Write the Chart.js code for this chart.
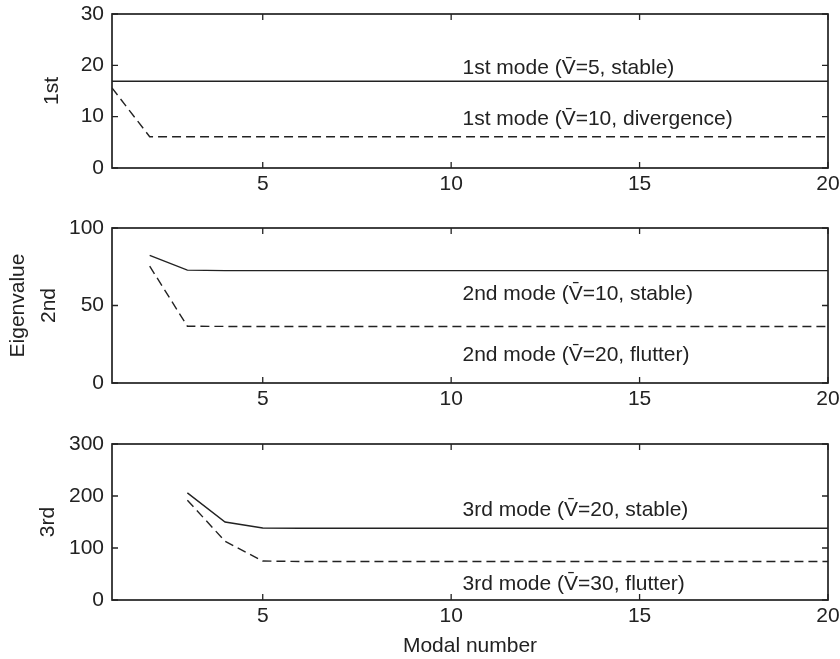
<!DOCTYPE html>
<html>
<head>
<meta charset="utf-8">
<script src="https://cdn.jsdelivr.net/npm/chart.js@4/dist/chart.umd.min.js"></script>
<style>
  html, body { margin: 0; padding: 0; background: #fff; }
  #wrap { position: relative; width: 840px; height: 659px; overflow: hidden; }
  canvas { position: absolute; left: 0; }
</style>
</head>
<body>
<div id="wrap">
  <canvas id="c1" width="840" height="215" style="top:0px"></canvas>
  <canvas id="c2" width="840" height="215" style="top:214px"></canvas>
  <canvas id="c3" width="840" height="229" style="top:430px"></canvas>
</div>
<script>
// ---- data ----
const modalNumbers = [1,2,3,4,5,6,7,8,9,10,11,12,13,14,15,16,17,18,19,20];
const xTicks = [5,10,15,20];

const mode1Stable     = [16.9,16.9,16.9,16.9,16.9,16.9,16.9,16.9,16.9,16.9,16.9,16.9,16.9,16.9,16.9,16.9,16.9,16.9,16.9,16.9];
const mode1Divergence = [15.6,6.1,6.1,6.1,6.1,6.1,6.1,6.1,6.1,6.1,6.1,6.1,6.1,6.1,6.1,6.1,6.1,6.1,6.1,6.1];
const mode2Stable     = [null,82.3,72.8,72.5,72.5,72.5,72.5,72.5,72.5,72.5,72.5,72.5,72.5,72.5,72.5,72.5,72.5,72.5,72.5,72.5];
const mode2Flutter    = [null,75.4,36.6,36.5,36.5,36.5,36.5,36.5,36.5,36.5,36.5,36.5,36.5,36.5,36.5,36.5,36.5,36.5,36.5,36.5];
const mode3Stable     = [null,null,206,150,138.5,138,138,138,138,138,138,138,138,138,138,138,138,138,138,138];
const mode3Flutter    = [null,null,192,113,75,74,74,74,74,74,74,74,74,74,74,74,74,74,74,74];

const y1Ticks = [0,10,20,30];
const y2Ticks = [0,50,100];
const y3Ticks = [0,100,200,300];

const panel1Labels = ['1st mode (V\u0304=5, stable)', '1st mode (V\u0304=10, divergence)'];
const panel1LabelY = [19.5, 9.45];
const panel2Labels = ['2nd mode (V\u0304=10, stable)', '2nd mode (V\u0304=20, flutter)'];
const panel2LabelY = [57.6, 18.0];
const panel3Labels = ['3rd mode (V\u0304=20, stable)', '3rd mode (V\u0304=30, flutter)'];
const panel3LabelY = [173.5, 31.2];
const labelX = 10.3;

// ---- rendering ----
const INK = '#222';
const FONT = "'Liberation Sans', Arial, sans-serif";
Chart.defaults.font.family = FONT;
Chart.defaults.font.size = 21;
Chart.defaults.color = INK;

function pts(arr) { return modalNumbers.map((x, i) => ({ x: x, y: arr[i] })); }

const boxPlugin = {
  id: 'matlabBox',
  afterDraw(chart, args, opts) {
    const { ctx, chartArea: { left, right, top, bottom }, scales: { x, y } } = chart;
    ctx.save();
    ctx.strokeStyle = INK;
    ctx.lineWidth = 1.7;
    ctx.strokeRect(left, top, right - left, bottom - top);
    const tl = 6;
    ctx.lineWidth = 1.3;
    ctx.beginPath();
    x.ticks.forEach(t => {
      const px = x.getPixelForValue(t.value);
      ctx.moveTo(px, bottom); ctx.lineTo(px, bottom - tl);
      ctx.moveTo(px, top); ctx.lineTo(px, top + tl);
    });
    y.ticks.forEach(t => {
      const py = y.getPixelForValue(t.value);
      ctx.moveTo(left, py); ctx.lineTo(left + tl, py);
      ctx.moveTo(right, py); ctx.lineTo(right - tl, py);
    });
    ctx.stroke();
    // annotations
    ctx.fillStyle = INK;
    ctx.font = '21px ' + FONT;
    ctx.textAlign = 'left';
    ctx.textBaseline = 'middle';
    (opts.labels || []).forEach((txt, i) => {
      ctx.fillText(txt, x.getPixelForValue(labelX), y.getPixelForValue(opts.labelY[i]));
    });
    ctx.restore();
  }
};

function makeChart(id, solid, dashed, yTicks, yTitle, yTitlePad, yTitleLH, xAxisH, xTitle, labels, labelY) {
  const yMax = yTicks[yTicks.length - 1];
  return new Chart(document.getElementById(id), {
    type: 'line',
    data: {
      datasets: [
        { data: pts(solid), borderColor: INK, borderWidth: 1.4, pointRadius: 0, fill: false, tension: 0 },
        { data: pts(dashed), borderColor: INK, borderWidth: 1.4, borderDash: [9, 5], pointRadius: 0, fill: false, tension: 0 }
      ]
    },
    options: {
      responsive: false,
      animation: false,
      events: [],
      layout: { padding: { top: 14, right: 12, left: 0, bottom: 0 } },
      plugins: {
        legend: { display: false },
        tooltip: { enabled: false },
        matlabBox: { labels: labels, labelY: labelY }
      },
      scales: {
        x: {
          type: 'linear', min: 1, max: 20,
          grid: { display: false, drawTicks: false },
          border: { display: false },
          ticks: { padding: 3.5, maxRotation: 0, autoSkip: false },
          afterBuildTicks: s => { s.ticks = xTicks.map(v => ({ value: v })); },
          afterFit: s => { s.height = xAxisH; s.paddingLeft = 0; s.paddingRight = 0; },
          title: xTitle ? { display: true, text: xTitle, padding: { top: 0, bottom: 0 }, font: { size: 21 } } : { display: false }
        },
        y: {
          type: 'linear', min: 0, max: yMax,
          grid: { display: false, drawTicks: false },
          border: { display: false },
          ticks: { padding: 8 },
          afterBuildTicks: s => { s.ticks = yTicks.map(v => ({ value: v })); },
          afterFit: s => { s.width = 112; s.paddingTop = 0; s.paddingBottom = 0; },
          title: { display: true, text: yTitle, padding: { top: yTitlePad, bottom: 0 }, font: { size: 21, lineHeight: yTitleLH } }
        }
      }
    },
    plugins: [boxPlugin]
  });
}

makeChart('c1', mode1Stable, mode1Divergence, y1Ticks, '1st', 39.4, 1.2, 47, null, panel1Labels, panel1LabelY);
makeChart('c2', mode2Stable, mode2Flutter, y2Ticks, ['Eigenvalue', '2nd'], 2.5, 1.476, 46, null, panel2Labels, panel2LabelY);
makeChart('c3', mode3Stable, mode3Flutter, y3Ticks, '3rd', 36, 1.2, 59, 'Modal number', panel3Labels, panel3LabelY);
</script>
</body>
</html>
